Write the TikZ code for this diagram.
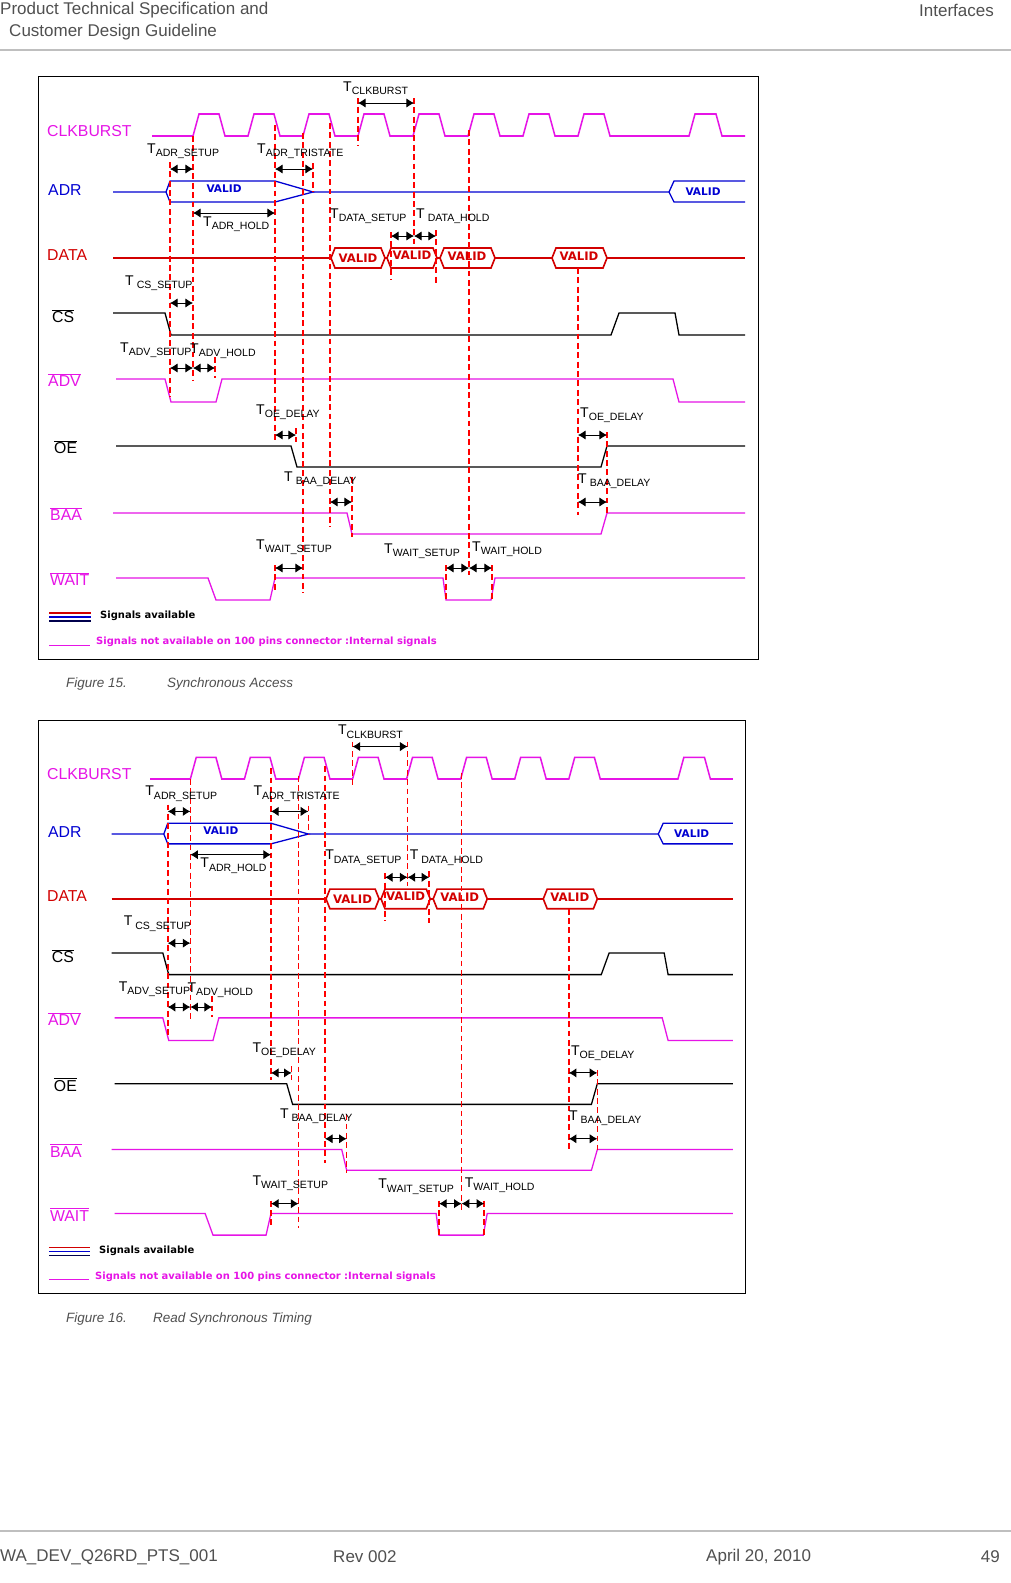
\documentclass[tikz,border=0pt]{standalone}
\usepackage{fontspec}
\setmainfont{Liberation Sans}
\newfontfamily\vfont{DejaVu Sans}
\usetikzlibrary{arrows.meta}
\definecolor{mag}{RGB}{230,20,230}
\definecolor{dred}{RGB}{210,0,0}
\definecolor{dblue}{RGB}{0,0,210}
\definecolor{hdr}{RGB}{80,80,80}
\tikzset{
 clk/.style={mag,line width=1.3pt},
 sig/.style={line width=1.1pt},
 dl/.style={red,line width=1.4pt,dash pattern=on 5pt off 3pt},
 tarr/.style={{Latex[length=6.5pt,width=8pt]}-{Latex[length=6.5pt,width=8pt]},line width=0.8pt},
 tlab/.style={anchor=west,inner sep=0pt},
 slab/.style={anchor=west,inner sep=0pt,font=\fontsize{13.5}{14}\selectfont},
 vlab/.style={inner sep=0pt,font=\vfont\bfseries\fontsize{9}{10}\selectfont},
 hd/.style={anchor=west,inner sep=0pt,text=hdr,font=\fontsize{14.5}{16}\selectfont},
 figcap/.style={anchor=west,inner sep=0pt,font=\itshape\fontsize{11.5}{13}\selectfont,text=hdr}
}
\newcommand\Tl[2]{{\fontsize{12}{12}\selectfont T}{\fontsize{9}{10}\selectfont\raisebox{-3pt}{#1#2}}}
\newcommand\hexa[4]{(#1,#3) -- (#1+4,#3-#4) -- (#2-4,#3-#4) -- (#2,#3) -- (#2-4,#3+#4) -- (#1+4,#3+#4) -- cycle}
\newcommand\timingfig{%
 \draw[line width=0.7pt] (38,76) rectangle (758,659);
 % labels
 \node[slab,text=mag] (lclk) at (47,131) {CLKBURST};
 \node[slab,text=dblue] (ladr) at (48,190) {ADR};
 \node[slab,text=dred] (ldat) at (47,255) {DATA};
 \node[slab] (lcs) at (52,316) {$\overline{\mbox{CS}}$};
 \node[slab,text=mag] (ladv) at (48,380) {$\overline{\mbox{ADV}}$};
 \node[slab] (loe) at (54,447) {$\overline{\mbox{OE}}$};
 \node[slab,text=mag] (lbaa) at (50,514) {$\overline{\mbox{BAA}}$};
 \node[slab,text=mag] (lwait) at (50,579) {$\overline{\mbox{WAIT}}$};
 % clock
 \draw[clk] (152,136) foreach \r in {193,248,303,358,413,468,523,578} { -- (\r,136) -- (\r+6,114) -- (\r+26,114) -- (\r+32,136) } -- (689,136) -- (695,114) -- (716,114) -- (722,136) -- (745,136);
 % ADR
 \draw[dblue,sig] (113,192) -- (166,192) -- (170,181) -- (275,181) -- (313,192) -- (275,202) -- (170,202) -- (166,192);
 \draw[dblue,sig] (313,192) -- (669,192) -- (674,181) -- (745,181);
 \draw[dblue,sig] (669,192) -- (674,202) -- (745,202);
 \node[vlab,text=dblue] (av1) at (224,189) {VALID};
 \node[vlab,text=dblue] (av2) at (703,192) {VALID};
 % DATA
 \draw[dred,sig] (113,258) -- (745,258);
 \foreach \a/\b in {331/385,387/437,440/495,552/607}{\draw[dred,line width=1.4pt,fill=white] \hexa{\a}{\b}{258}{10};}
 \foreach \c/\yy in {358/258,412/255,467/256,579/256}{\node[vlab,text=dred,font=\vfont\bfseries\fontsize{10}{11}\selectfont] at (\c,\yy) {VALID};}
 % CS
 \draw[sig] (113,313) -- (165,313) -- (171,335) -- (611,335) -- (619,313) -- (675,313) -- (679,335) -- (745,335);
 % ADV
 \draw[mag,sig] (116,379) -- (165,379) -- (171,402) -- (216,402) -- (222,379) -- (673,379) -- (679,402) -- (745,402);
 % OE
 \draw[sig] (116,446) -- (291,446) -- (297,467) -- (601,467) -- (607,446) -- (745,446);
 % BAA
 \draw[mag,sig] (113,513) -- (347,513) -- (352,534) -- (601,534) -- (607,513) -- (745,513);
 % WAIT
 \draw[mag,sig] (116,578) -- (208,578) -- (216,600) -- (270,600) -- (275,578) -- (443,578) -- (446,600) -- (491,600) -- (495,578) -- (745,578);
 % dashed
 \foreach \x/\ya/\yb in {170/162/397,193/136/380,215/357/378,275/125/442,275/565/592,303/133/593,313/163/192,330/123/527,358/98/145,414/98/245,391/232/280,436/230/283,469/130/575,578/268/515,352/477/537,607/432/513,446/565/602,492/565/600,296/428/442}{\draw[dl] (\x,\ya) -- (\x,\yb);}
 % arrows
 \foreach \a/\b/\yy in {358/414/103,170/193/169,275/313/169,193/275/213,391/414/236,414/436/236,170/193/303,170/193/368,193/215/368,275/296/435,578/607/435,330/352/502,578/607/502,275/303/568,446/469/568,469/492/568}{\draw[tarr] (\a,\yy) -- (\b,\yy);}
 % timing labels
 \node[tlab] (t1) at (343,88) {\Tl{}{CLKBURST}};
 \node[tlab] (t2) at (147,151) {\Tl{}{ADR\_SETUP}};
 \node[tlab] (t3) at (257,151) {\Tl{}{ADR\_TRISTATE}};
 \node[tlab] (t4) at (203,224) {\Tl{}{ADR\_HOLD}};
 \node[tlab] (t5) at (330,216) {\Tl{}{DATA\_SETUP}};
 \node[tlab] (t6) at (416,216) {\Tl{ }{DATA\_HOLD}};
 \node[tlab] (t7) at (125,283) {\Tl{ }{CS\_SETUP}};
 \node[tlab] (t8) at (120,350) {\Tl{}{ADV\_SETUP}};
 \node[tlab] (t9) at (190,351) {\Tl{}{ADV\_HOLD}};
 \node[tlab] (t10) at (256,412) {\Tl{}{OE\_DELAY}};
 \node[tlab] (t11) at (580,415) {\Tl{}{OE\_DELAY}};
 \node[tlab] (t12) at (284,479) {\Tl{ }{BAA\_DELAY}};
 \node[tlab] (t13) at (578,481) {\Tl{ }{BAA\_DELAY}};
 \node[tlab] (t14) at (256,547) {\Tl{}{WAIT\_SETUP}};
 \node[tlab] (t15) at (384,551) {\Tl{}{WAIT\_SETUP}};
 \node[tlab] (t16) at (472,549) {\Tl{}{WAIT\_HOLD}};
 % legend
 \draw[dred,line width=1pt] (49,613) -- (91,613);
 \draw[dblue,line width=1pt] (49,617) -- (91,617);
 \draw[black!70!blue,line width=1pt] (49,621) -- (91,621);
 \node[anchor=west,inner sep=0pt,font=\vfont\bfseries\fontsize{8.5}{9}\selectfont] (lg1) at (100,616) {Signals available};
 \draw[mag,line width=0.8pt] (49,645) -- (90,645);
 \node[anchor=west,inner sep=0pt,text=mag,font=\vfont\bfseries\fontsize{8.5}{9}\selectfont] (lg2) at (96,642) {Signals not available on 100 pins connector :Internal signals};
}
\begin{document}
\begin{tikzpicture}[x=0.03cm,y=-0.03cm]
\useasboundingbox[fill=white] (0,0) rectangle (1011,1583);
\node[hd] (h1) at (0,10) {Product Technical Specification and};
\node[hd] (h2) at (9,32) {Customer Design Guideline};
\node[hd,anchor=east] (h3) at (994,10) {Interfaces};
\draw[gray!50,line width=1.5pt] (0,50) -- (1011,50);
\draw[gray!50,line width=1.5pt] (0,1531) -- (1011,1531);
\node[hd] (f1) at (0,1557) {WA\_DEV\_Q26RD\_PTS\_001};
\node[hd] (f2) at (333,1557) {Rev 002};
\node[hd] (f3) at (706,1557) {April 20, 2010};
\node[hd,anchor=east] (f4) at (1000,1557) {49};
\begin{scope}
\timingfig
\end{scope}
\node[figcap] (c1) at (66,684) {Figure 15.};
\node[figcap] (c1b) at (167,684) {Synchronous Access};
\begin{scope}[shift={(38,720)},scale=0.983,shift={(-38,-76)}]
\timingfig
\end{scope}
\node[figcap] (c2) at (66,1319) {Figure 16.};
\node[figcap] (c2b) at (153,1319) {Read Synchronous Timing};
\end{tikzpicture}
\end{document}
